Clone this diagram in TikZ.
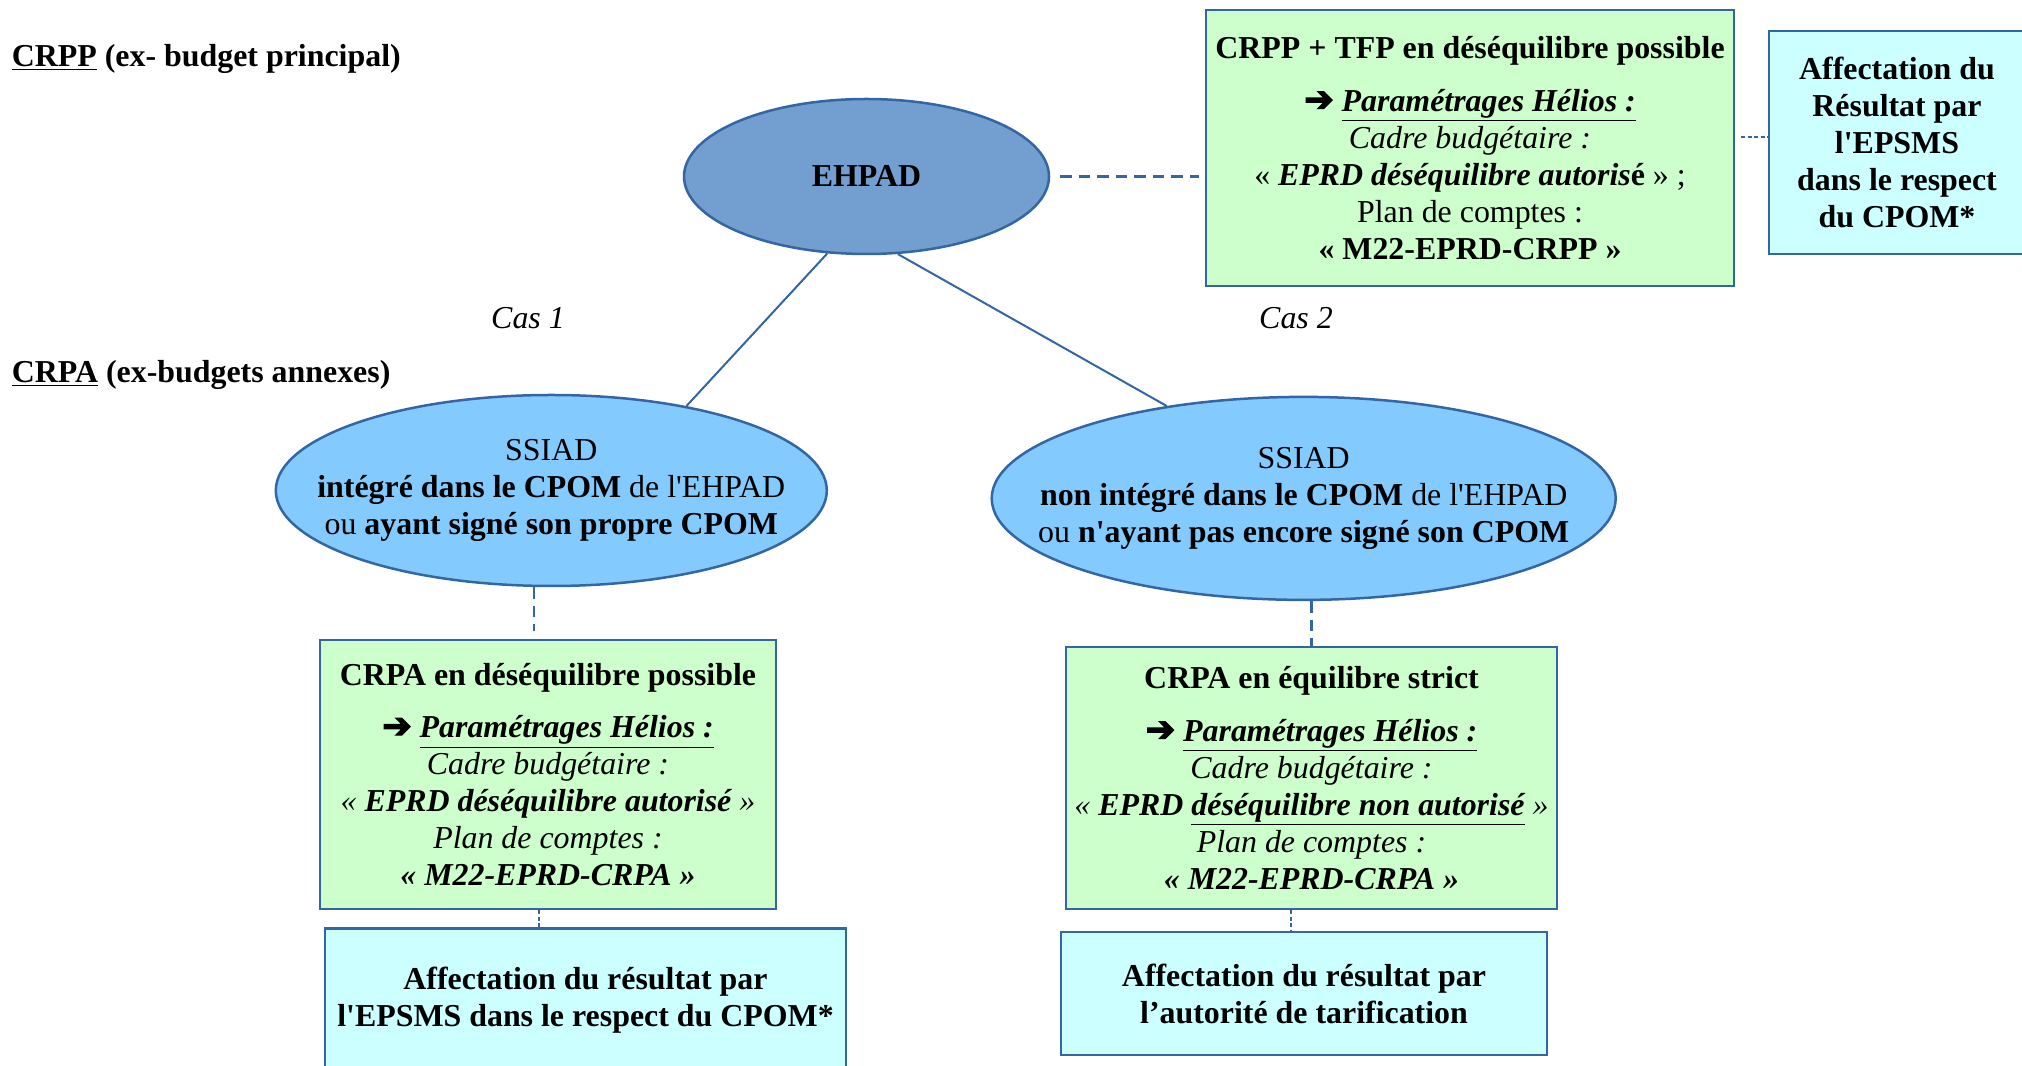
\documentclass[tikz,border=0pt]{standalone}
\usepackage{fontspec}
\setmainfont{Liberation Serif}[Ligatures=TeXOff]
\newfontfamily\arrowfont{DejaVu Sans}[FakeBold=4]
\usetikzlibrary{shapes.geometric}

\definecolor{helioblue}{HTML}{3465A4}
\definecolor{ehpadfill}{HTML}{729FCF}
\definecolor{ssiadfill}{HTML}{83CAFF}
\definecolor{crfill}{HTML}{CCFFCC}
\definecolor{afffill}{HTML}{CCFFFF}

\newcommand{\heliosarrow}{{\arrowfont\fontsize{20}{21.05}\selectfont ➔}}
\newcommand{\heliosline}{\heliosarrow\ \textbf{\textit{\underline{Paramétrages Hélios :}}}}

\tikzset{
  ehpadshape/.style={ellipse, draw=helioblue, fill=ehpadfill, line width=0.05cm,
    minimum width=7.30cm, minimum height=3.10cm, inner sep=0pt, font=\bfseries},
  ssiadshape/.style={ellipse, draw=helioblue, fill=ssiadfill, line width=0.05cm, inner sep=0pt},
  crbox/.style={rectangle, draw=helioblue, fill=crfill, line width=0.05cm, align=center, inner sep=0pt},
  affbox/.style={rectangle, draw=helioblue, fill=afffill, line width=0.05cm, align=center,
    inner sep=0pt, font=\bfseries},
  branchline/.style={draw=helioblue, line width=0.04cm},
  dashlink/.style={draw=helioblue, line width=0.045cm, dash pattern=on 0.23cm off 0.14cm},
  dotlink/.style={draw=helioblue, line width=0.04cm, dash pattern=on 0.08cm off 0.05cm},
}

\begin{document}
\begin{tikzpicture}
        \useasboundingbox (0,0) rectangle (40.440000,21.300000);
        \clip (0,0) rectangle (40.440000,21.300000);
        {\fontsize{18.15}{21.05}\selectfont

        % Level titles
        \node (crpplabel) [anchor=west, inner sep=0pt, font=\bfseries] at (0.230000,20.120000) {\underline{CRPP} (ex- budget principal)};%
        \node (crpalabel) [anchor=west, inner sep=0pt, font=\bfseries] at (0.230000,13.800000) {\underline{CRPA} (ex-budgets annexes)};%
        \node (cas1) [font=\itshape] at (10.560000,14.930000) {Cas 1};%
        \node (cas2) [font=\itshape] at (25.920000,14.930000) {Cas 2};%

        % Ellipse EHPAD
        \node (ehpad) [ehpadshape] at (17.330000,17.770000) {EHPAD};%

        % Box CRPP + TFP
        \node (crppbox) [crbox, minimum width=10.560000cm, minimum height=5.520000cm] at (29.400000,18.340000)
          {\textbf{CRPP + TFP en déséquilibre possible}\\[8.8pt]
           \heliosline\\
           \textit{Cadre budgétaire :}\\
           « \textbf{\textit{EPRD déséquilibre autoris}é} » ;\\
           Plan de comptes :\\
           \textbf{« M22-EPRD-CRPP »}};%

        % Box affectation CRPP
        \node (affpp) [affbox, minimum width=5.120000cm, minimum height=4.460000cm] at (37.940000,18.450000)
          {Affectation du\\Résultat par\\l'EPSMS\\dans le respect\\du CPOM*};%

        % Ellipse SSIAD, case 1
        \node (ssiad1) [ssiadshape, minimum width=11.020000cm, minimum height=3.820000cm] at (11.026000,11.490000) {};%
        \node (ssiad1text) [align=center] at (ssiad1)
          {SSIAD\\\textbf{intégré dans le CPOM} de l'EHPAD\\ou \textbf{ayant signé son propre CPOM}};%

        % Ellipse SSIAD, case 2
        \node (ssiad2) [ssiadshape, minimum width=12.480000cm, minimum height=4.060000cm] at (26.074000,11.332000) {};%
        \node (ssiad2text) [align=center] at (ssiad2)
          {SSIAD\\\textbf{non intégré dans le CPOM} de l'EHPAD\\ou \textbf{n'ayant pas encore signé son CPOM}};%

        % Box CRPA, case 1
        \node (crpa1) [crbox, minimum width=9.120000cm, minimum height=5.380000cm] at (10.960000,5.810000)
          {\textbf{CRPA en déséquilibre possible}\\[8.8pt]
           \heliosline\\
           \textit{Cadre budgétaire :}\\
           \textit{« \textbf{EPRD déséquilibre autorisé} »}\\
           \textit{Plan de comptes :}\\
           \textbf{\textit{« M22-EPRD-CRPA »}}};%

        % Box CRPA, case 2
        \node (crpa2) [crbox, minimum width=9.820000cm, minimum height=5.240000cm] at (26.230000,5.740000)
          {\textbf{CRPA en équilibre strict}\\[8.8pt]
           \heliosline\\
           \textit{Cadre budgétaire :}\\
           \textit{« \textbf{EPRD \underline{déséquilibre non autorisé}} »}\\
           \textit{Plan de comptes :}\\
           \textbf{\textit{« M22-EPRD-CRPA »}}};%

        % Boxes affectation CRPA
        \node (aff1) [affbox, minimum width=10.420000cm, minimum height=2.860000cm] at (11.710000,1.300000)
          {Affectation du résultat par\\l'EPSMS dans le respect du CPOM*};%
        \node (aff2) [affbox, minimum width=9.720000cm, minimum height=2.460000cm] at (26.080000,1.430000)
          {Affectation du résultat par\\l’autorité de tarification};%

        % Drawing branches from EHPAD
        \draw [branchline] (ehpad.243) -- (ssiad1.32);%
        \draw [branchline] (ehpad.292) -- (ssiad2.146);%

        % Drawing dashed and dotted links
        \draw [dashlink, shorten <=0.20cm, shorten >=0.12cm] (ehpad.east) -- (ehpad.east -| crppbox.west);%
        \draw [dotlink, shorten <=0.12cm] ([yshift=0.22cm]crppbox.east) -- ([yshift=0.22cm]crppbox.east -| affpp.west);%
        \draw [dashlink, shorten >=0.16cm] ([xshift=-0.34cm]ssiad1.south) -- ([xshift=-0.34cm]ssiad1.south |- crpa1.north);%
        \draw [dotlink] ([xshift=-0.18cm]crpa1.south) -- ([xshift=-0.18cm]crpa1.south |- aff1.north);%
        \draw [dashlink] (ssiad2.south -| crpa2.north) -- (crpa2.north);%
        \draw [dotlink] ([xshift=-0.41cm]crpa2.south) -- ([xshift=-0.41cm]crpa2.south |- aff2.north);%
        }
\end{tikzpicture}
\end{document}
